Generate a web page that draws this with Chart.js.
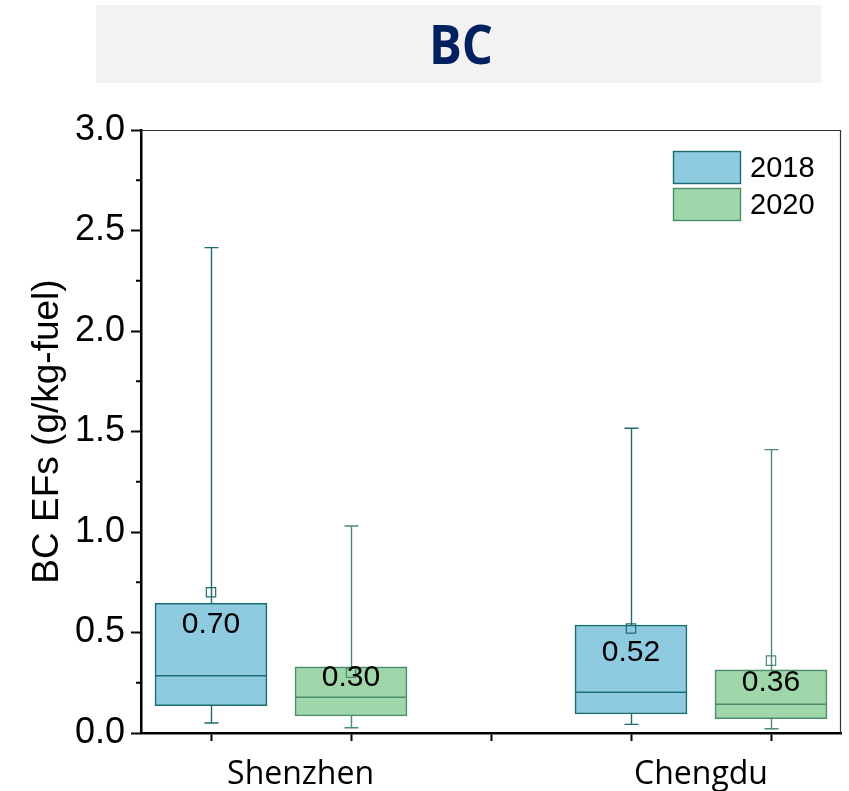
<!DOCTYPE html>
<html><head><meta charset="utf-8">
<script src="https://cdn.jsdelivr.net/npm/chart.js@4/dist/chart.umd.min.js"></script>
<style>html,body{margin:0;padding:0;background:#fff}#wrap{width:849px;height:791px;position:relative}</style>
</head><body><div id="wrap"><canvas id="c" width="849" height="791"></canvas></div>
<script>
const chartTitle = 'BC';
const yTitle = 'BC EFs (g/kg-fuel)';
const cities = ['Shenzhen', 'Chengdu'];
const cityLabelAt = [0.64, 3.5];
const years = ['2018', '2020'];
const yTicks = [0, 0.5, 1.0, 1.5, 2.0, 2.5, 3.0];
// values per city (Shenzhen, Chengdu)
const min2018  = [0.050, 0.043];
const q1_2018  = [0.136, 0.095];
const med2018  = [0.285, 0.203];
const q3_2018  = [0.646, 0.537];
const max2018  = [2.415, 1.516];
const mean2018 = [0.70, 0.52];
const min2020  = [0.026, 0.021];
const q1_2020  = [0.085, 0.071];
const med2020  = [0.178, 0.143];
const q3_2020  = [0.329, 0.314];
const max2020  = [1.030, 1.410];
const mean2020 = [0.30, 0.36];
// where each mean label sits (data units)
const labelAt2018 = [0.538, 0.399];
const labelAt2020 = [0.274, 0.249];

const fill2018 = '#8ecae0', line2018 = '#1c6c70';
const fill2020 = '#9fd7aa', line2020 = '#4a8c6c';
const pos = (ci, yi) => ci * 3 + yi;

const series = [
  {year: years[0], fill: fill2018, line: line2018, min: min2018, q1: q1_2018, med: med2018, q3: q3_2018, max: max2018, mean: mean2018, lab: labelAt2018, yi: 0},
  {year: years[1], fill: fill2020, line: line2020, min: min2020, q1: q1_2020, med: med2020, q3: q3_2020, max: max2020, mean: mean2020, lab: labelAt2020, yi: 1}
];

const BOX_W = 112;

const datasets = [];
series.forEach(s => {
  datasets.push({
    type: 'scatter', label: s.year + ' mean', order: 0,
    data: cities.map((c, i) => ({x: pos(i, s.yi), y: s.mean[i]})),
    pointStyle: 'rect', pointRadius: 6.6, borderColor: s.line, backgroundColor: 'rgba(0,0,0,0)', borderWidth: 1.2
  });
});
series.forEach(s => {
  datasets.push({
    type: 'bar', label: s.year, order: 2,
    data: cities.map((c, i) => ({x: pos(i, s.yi), y: [s.q1[i], s.q3[i]]})),
    backgroundColor: s.fill, borderColor: s.line, borderWidth: 1.6, borderSkipped: false,
    barThickness: BOX_W, grouped: false
  });
});

const boxPlugin = {
  id: 'boxparts',
  beforeDraw(chart) {
    const ctx = chart.ctx;
    ctx.save();
    ctx.fillStyle = '#ffffff';
    ctx.fillRect(0, 0, chart.width, chart.height);
    ctx.fillStyle = '#f2f2f2';
    ctx.fillRect(96, 5, 725, 78);
    ctx.fillStyle = '#002060';
    ctx.font = 'bold 54px "Open Sans"';
    ctx.textAlign = 'center';
    ctx.textBaseline = 'middle';
    ctx.fillText(chartTitle, 461, 49, 64);
    ctx.restore();
  },
  beforeDatasetsDraw(chart) {
    const ctx = chart.ctx, xs = chart.scales.x, ys = chart.scales.y;
    ctx.save();
    series.forEach(s => {
      cities.forEach((c, i) => {
        const x = Math.round(xs.getPixelForValue(pos(i, s.yi))) + 0.5;
        const yMin = ys.getPixelForValue(s.min[i]);
        const yMax = ys.getPixelForValue(s.max[i]);
        ctx.strokeStyle = s.line;
        ctx.lineWidth = 1.4;
        ctx.beginPath();
        ctx.moveTo(x, yMin); ctx.lineTo(x, yMax);
        ctx.moveTo(x - 7, yMin); ctx.lineTo(x + 7, yMin);
        ctx.moveTo(x - 7, yMax); ctx.lineTo(x + 7, yMax);
        ctx.stroke();
      });
    });
    ctx.restore();
  },
  afterDatasetsDraw(chart) {
    const ctx = chart.ctx, xs = chart.scales.x, ys = chart.scales.y;
    ctx.save();
    series.forEach(s => {
      cities.forEach((c, i) => {
        const x = xs.getPixelForValue(pos(i, s.yi));
        const yMed = ys.getPixelForValue(s.med[i]);
        ctx.strokeStyle = s.line;
        ctx.lineWidth = 1.6;
        ctx.beginPath();
        ctx.moveTo(x - BOX_W / 2, yMed); ctx.lineTo(x + BOX_W / 2, yMed);
        ctx.stroke();
        ctx.fillStyle = '#000';
        ctx.font = '30px "Liberation Sans", Arial, sans-serif';
        ctx.textAlign = 'center';
        ctx.textBaseline = 'middle';
        ctx.fillText(s.mean[i].toFixed(2), x, ys.getPixelForValue(s.lab[i]));
      });
    });
    ctx.restore();
  },
  afterDraw(chart) {
    const ctx = chart.ctx, ys = chart.scales.y, a = chart.chartArea;
    ctx.save();
    // minor ticks
    ctx.strokeStyle = '#000';
    ctx.lineWidth = 2;
    ctx.beginPath();
    for (let k = 0; k < yTicks.length - 1; k++) {
      const v = (yTicks[k] + yTicks[k + 1]) / 2;
      const y = ys.getPixelForValue(v);
      ctx.moveTo(a.left - 5, y); ctx.lineTo(a.left, y);
    }
    ctx.stroke();
    // top & right frame
    ctx.strokeStyle = '#333';
    ctx.lineWidth = 1.2;
    ctx.beginPath();
    ctx.moveTo(a.left, a.top + 0.5); ctx.lineTo(a.right, a.top + 0.5);
    ctx.moveTo(a.right - 0.5, a.top); ctx.lineTo(a.right - 0.5, a.bottom);
    ctx.stroke();
    // legend
    const lx = a.right - 168, ly = a.top + 21, bw = 68, bh = 33, gap = 37;
    ctx.font = '29px "Liberation Sans", Arial, sans-serif';
    ctx.textAlign = 'left';
    ctx.textBaseline = 'middle';
    series.forEach((s, k) => {
      const y = ly + k * gap;
      ctx.fillStyle = s.fill;
      ctx.fillRect(lx, y, bw, bh);
      ctx.strokeStyle = s.line;
      ctx.lineWidth = 1.4;
      ctx.strokeRect(lx + 0.5, y + 0.5, bw - 1, bh - 1);
      ctx.fillStyle = '#000';
      ctx.fillText(s.year, lx + bw + 9, y + bh / 2 + 1);
    });
    ctx.restore();
  }
};

const xTickVals = [0, 1, 2, 3, 4].concat(cityLabelAt).sort((a, b) => a - b);

new Chart(document.getElementById('c'), {
  type: 'bar',
  data: { datasets },
  options: {
    responsive: false, animation: false, devicePixelRatio: 1,
    indexAxis: 'x',
    layout: { padding: { top: 130, right: 8, left: 0, bottom: 0 } },
    plugins: { legend: { display: false }, tooltip: { enabled: false }, title: { display: false } },
    scales: {
      x: {
        type: 'linear', min: -0.5, max: 4.5, offset: false,
        afterFit(s) { s.height = 58; },
        afterBuildTicks(s) { s.ticks = xTickVals.map(v => ({value: v})); },
        ticks: {
          autoSkip: false, maxRotation: 0, padding: 15, color: '#000',
          font: { family: '"Open Sans"', size: 32 },
          callback: (v) => { const k = cityLabelAt.indexOf(v); return k >= 0 ? cities[k] : ''; }
        },
        grid: {
          offset: false,
          drawOnChartArea: false, drawTicks: true, tickLength: 8, tickWidth: 2,
          tickColor: (c) => (c.tick && cityLabelAt.indexOf(c.tick.value) >= 0) ? 'rgba(0,0,0,0)' : '#000'
        },
        border: { display: true, color: '#000', width: 2.5 }
      },
      y: {
        type: 'linear', min: 0, max: 3,
        afterFit(s) { s.width = 141; },
        afterBuildTicks(s) { s.ticks = yTicks.map(v => ({value: v})); },
        ticks: {
          padding: 6, color: '#000',
          font: { family: '"Liberation Sans", Arial', size: 36 },
          callback: (v) => v.toFixed(1)
        },
        grid: { drawOnChartArea: false, drawTicks: true, tickLength: 10, tickWidth: 2, tickColor: '#000' },
        border: { display: true, color: '#000', width: 2.5 },
        title: {
          display: true, text: yTitle, color: '#000',
          font: { family: '"Liberation Sans", Arial', size: 37 },
          padding: { top: 26, bottom: 0 }
        }
      }
    }
  },
  plugins: [boxPlugin]
});
</script>
</body></html>
